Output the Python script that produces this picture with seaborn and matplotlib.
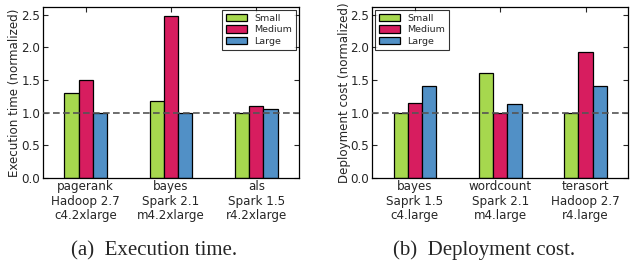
import numpy as np
import pandas as pd
import matplotlib
matplotlib.use("Agg")
import matplotlib.pyplot as plt
import seaborn as sns

sizes = ["Small", "Medium", "Large"]
exec_cats = ["pagerank\nHadoop 2.7\nc4.2xlarge", "bayes\nSpark 2.1\nm4.2xlarge", "als\nSpark 1.5\nr4.2xlarge"]
exec_small = [1.30, 1.18, 1.00]
exec_medium = [1.50, 2.48, 1.11]
exec_large = [1.00, 1.00, 1.05]

cost_cats = ["bayes\nSaprk 1.5\nc4.large", "wordcount\nSpark 2.1\nm4.large", "terasort\nHadoop 2.7\nr4.large"]
cost_small = [1.00, 1.61, 1.00]
cost_medium = [1.15, 1.00, 1.93]
cost_large = [1.41, 1.13, 1.41]

yticks = [0.0, 0.5, 1.0, 1.5, 2.0, 2.5]
colors = ["#a6d84e", "#d71d5f", "#5190c6"]

sns.set_style("ticks")
plt.rcParams["font.family"] = ["DejaVu Sans"]
plt.rcParams["xtick.direction"] = "in"
plt.rcParams["ytick.direction"] = "in"

def make_df(cats, s, m, l):
    rows = []
    for c, a, b, d in zip(cats, s, m, l):
        rows.append((c, "Small", a))
        rows.append((c, "Medium", b))
        rows.append((c, "Large", d))
    return pd.DataFrame(rows, columns=["cat", "size", "value"])

fig = plt.figure(figsize=(6.32, 2.65), dpi=100)
ax1 = fig.add_axes([0.068, 0.328, 0.405, 0.646])
ax2 = fig.add_axes([0.589, 0.328, 0.405, 0.646])

specs = [
    (ax1, make_df(exec_cats, exec_small, exec_medium, exec_large), "Execution time (normalized)", "upper right", "(a)  Execution time.", 0.244),
    (ax2, make_df(cost_cats, cost_small, cost_medium, cost_large), "Deployment cost (normalized)", "upper left", "(b)  Deployment cost.", 0.766),
]

for ax, df, ylabel, loc, caption, cx in specs:
    sns.barplot(data=df, x="cat", y="value", hue="size", hue_order=sizes,
                palette=colors, width=0.5, gap=0, edgecolor="black",
                linewidth=0.9, saturation=1, errorbar=None, ax=ax, zorder=2)
    ax.axhline(1.0, color="#555555", linestyle=(0, (4, 2)), linewidth=1.2, zorder=3)
    ax.set_xlim(-0.5, 2.5)
    ax.set_ylim(0, 2.62)
    ax.set_yticks(yticks)
    ax.set_yticklabels([f"{v:.1f}" for v in yticks])
    ax.set_xlabel("")
    ax.set_ylabel(ylabel, fontsize=8.6, labelpad=0)
    ax.tick_params(axis="both", labelsize=8.6, length=3.5, width=0.8,
                   top=True, right=True, pad=2)
    ax.tick_params(axis="x", pad=1.5)
    for lab in ax.get_xticklabels():
        lab.set_linespacing(1.15)
    for sp in ax.spines.values():
        sp.set_visible(True)
        sp.set_linewidth(0.9)
        sp.set_color("black")
    leg = ax.legend(loc=loc, fontsize=6.8, frameon=True, fancybox=False,
                    edgecolor="black", handlelength=2.2, handleheight=0.8,
                    borderaxespad=0.3, labelspacing=0.3)
    leg.get_frame().set_linewidth(0.8)
    fig.text(cx, 0.055, caption, ha="center", va="center", fontsize=15,
             family="Liberation Serif")

fig.savefig("out.png", dpi=100)
